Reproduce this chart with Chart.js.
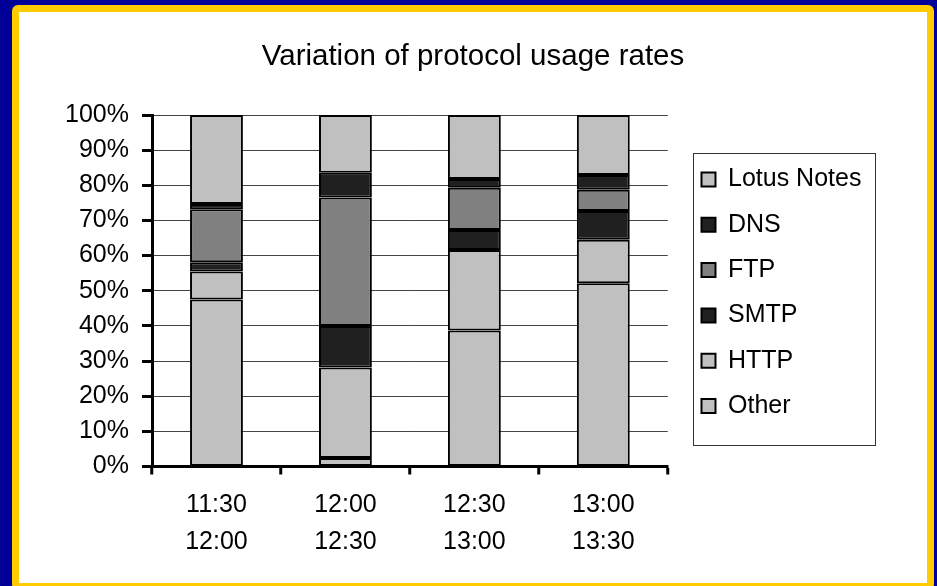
<!DOCTYPE html>
<html>
<head>
<meta charset="utf-8">
<title>Variation of protocol usage rates</title>
<script src="https://cdn.jsdelivr.net/npm/chart.js@4.4.0/dist/chart.umd.min.js"></script>
<style>
  html, body { margin: 0; padding: 0; }
  body { width: 937px; height: 586px; background: #000099; overflow: hidden; position: relative; }
  #frame {
    position: absolute; left: 12px; top: 5px;
    width: 908px; height: 571px;
    border: 7px solid #ffcc00; border-radius: 6px;
    background: #fff;
  }
  #frame canvas { display: block; }
</style>
</head>
<body>
<div id="frame"><canvas id="chart"></canvas></div>
<script>
// time slots (two-line labels)
const periods = [['11:30', '12:00'], ['12:00', '12:30'], ['12:30', '13:00'], ['13:00', '13:30']];

// share of traffic per protocol, in %
const other      = [47.5,  2.4, 38.7, 52.1];
const http       = [ 8.0, 25.8, 22.9, 12.4];
const smtp       = [ 2.6, 11.8,  5.7,  8.2];
const ftp        = [15.1, 36.5, 12.0,  6.0];
const dns        = [ 1.5,  7.1,  2.5,  4.2];
const lotusNotes = [25.3, 16.4, 18.2, 17.1];

const yMax = 100;
const yStep = 10;

const LIGHT = '#c0c0c0';
const DARK = '#202020';
const MID = '#808080';

Chart.defaults.font.family = '"Liberation Sans", Arial, sans-serif';
Chart.defaults.color = '#000';

function series(label, data, color) {
    return {
        label: label,
        data: data,
        backgroundColor: color,
        borderColor: '#000',
        borderWidth: 2,
        borderSkipped: false,
        barPercentage: 0.41,
        categoryPercentage: 1
    };
}

// centres the title over the whole canvas, nudges the legend and frames it
const legendFrame = {
    id: 'legendFrame',
    afterLayout(chart) {
        const t = chart.titleBlock;
        t.right = chart.width;
        t.width = chart.width - t.left;
        const lg = chart.legend;
        lg.left += 13.4;
        lg.right += 13.4;
        lg.top += 2;
        lg.bottom += 2;
    },
    afterDraw(chart) {
        const ctx = chart.ctx;
        const area = chart.chartArea;
        ctx.save();
        ctx.strokeStyle = '#333';
        ctx.lineWidth = 1;
        ctx.strokeRect(Math.round(area.right + 25) + 0.5, Math.round(area.top + 38) + 0.5, 182, 292);
        ctx.restore();
    }
};

new Chart(document.getElementById('chart'), {
    type: 'bar',
    data: {
        labels: periods,
        datasets: [
            series('Other', other, LIGHT),
            series('HTTP', http, LIGHT),
            series('SMTP', smtp, DARK),
            series('FTP', ftp, MID),
            series('DNS', dns, DARK),
            series('Lotus Notes', lotusNotes, LIGHT)
        ]
    },
    options: {
        responsive: true,
        maintainAspectRatio: false,
        animation: false,
        layout: { padding: { right: 69 } },
        plugins: {
            title: {
                display: true,
                text: 'Variation of protocol usage rates',
                color: '#000',
                font: { size: 29.5, weight: 'normal' },
                padding: { top: 27, bottom: 40.6 }
            },
            legend: {
                position: 'right',
                fullSize: false,
                reverse: true,
                labels: {
                    boxWidth: 14,
                    boxHeight: 14,
                    padding: 20.3,
                    color: '#000',
                    font: { size: 25 }
                }
            },
            tooltip: { enabled: false }
        },
        scales: {
            x: {
                stacked: true,
                afterFit(scale) { scale.height = 116.5; },
                border: { color: '#000', width: 3 },
                grid: {
                    offset: true,
                    color: c => c.index === periods.length ? '#8c8c8c' : 'rgba(0,0,0,0)',
                    lineWidth: 1.5,
                    tickColor: '#000',
                    tickWidth: 3,
                    tickLength: 8
                },
                ticks: {
                    color: '#000',
                    font: { size: 25, lineHeight: '37px' },
                    padding: 12,
                    maxRotation: 0,
                    autoSkip: false
                }
            },
            y: {
                stacked: true,
                min: 0,
                max: yMax,
                afterFit(scale) { scale.width = 133; },
                border: { color: '#000', width: 3 },
                grid: {
                    color: '#444',
                    lineWidth: 1,
                    tickColor: '#000',
                    tickWidth: 3,
                    tickLength: 10
                },
                ticks: {
                    stepSize: yStep,
                    color: '#000',
                    font: { size: 25 },
                    padding: 13,
                    callback: v => v + '%'
                }
            }
        }
    },
    plugins: [legendFrame]
});
</script>
</body>
</html>
